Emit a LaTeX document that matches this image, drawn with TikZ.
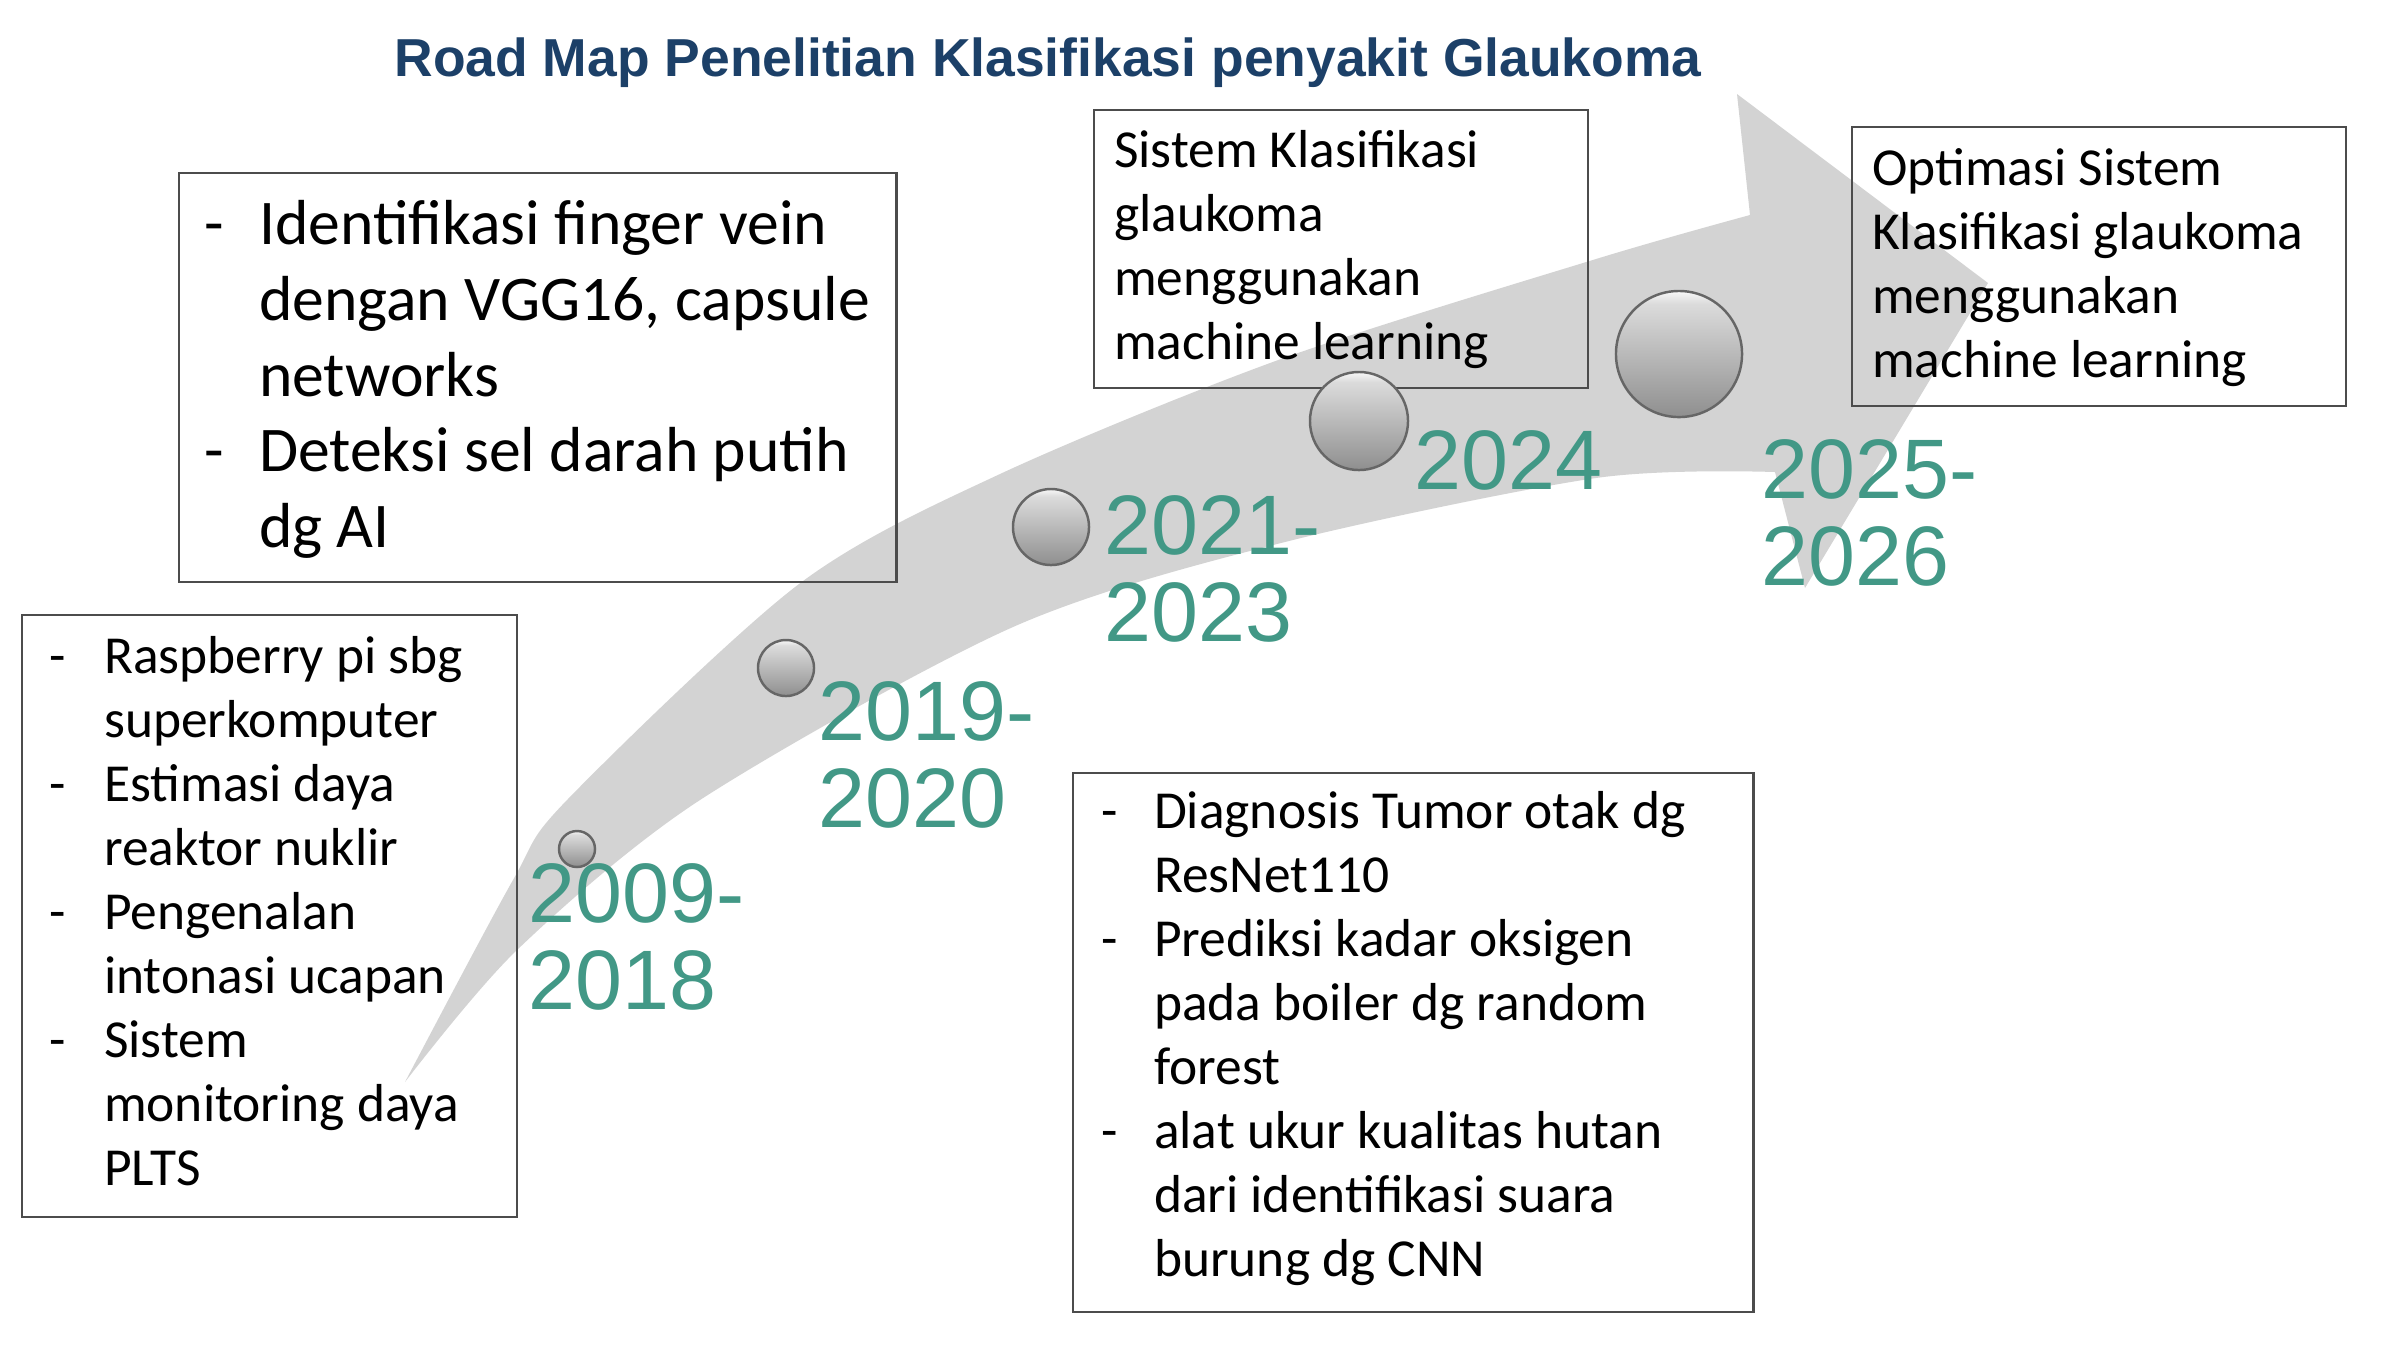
\documentclass[tikz,border=0pt]{standalone}
\usepackage{fontspec}
\setmainfont{Carlito}
\newfontfamily\arialfont{Liberation Sans}

\definecolor{titleblue}{RGB}{28,64,104}
\definecolor{yearteal}{RGB}{66,152,134}
\definecolor{arrowgray}{RGB}{211,211,211}

\pgfdeclareverticalshading{silver}{100bp}{color(0bp)=(gray!88); color(25bp)=(gray!88); color(40bp)=(gray!68); color(58bp)=(gray!44); color(70bp)=(gray!28); color(74bp)=(gray!10); color(75bp)=(white); color(100bp)=(white)}

\newcommand{\dashitem}[3]{\noindent\hangindent=#2\hangafter=1\makebox[#2][l]{\hspace*{#1}-}#3\par}

\begin{document}
\begin{tikzpicture}[x=0.01cm,y=-0.01cm,
  textbox/.style={draw=black!70, line width=0.6pt, anchor=north west, inner sep=0pt, align=flush left},
  knob/.style={circle, shading=silver, draw=black!60, line width=0.7pt, inner sep=0pt},
  year/.style={anchor=base west, inner sep=0pt, text width=3cm, align=flush left, text=yearteal, font=\arialfont\fontsize{24pt}{24.8pt}\selectfont}]

\useasboundingbox (0,0) rectangle (2408,1356);

% the big arrow
\fill[arrowgray] plot[smooth] coordinates {(405,1082) (513,880) (567,800) (799,584) (1000,474) (1281,359) (1596,259) (1750,215)}
	-- (1737,94) -- (1988,283) -- (1805,588) -- (1775,472)
	-- plot[smooth] coordinates {(1775,472) (1596,478) (1281,543) (1013,627) (700,800) (517,950) (405,1082)} -- cycle;

\node[textbox, text width=7.17cm, text height=0.71cm, text depth=3.38cm, font=\fontsize{18.1pt}{21.6pt}\selectfont] (boxA) at (178,172)
	{\dashitem{0.25cm}{0.80cm}{Identifikasi finger vein\newline dengan VGG16, capsule\newline networks}%
	 \dashitem{0.25cm}{0.80cm}{Deteksi sel darah putih\newline dg AI}};
\node[textbox, text width=4.95cm, text height=0.58cm, text depth=5.44cm, font=\fontsize{15.2pt}{18.2pt}\selectfont] (boxB) at (21,614)
	{\dashitem{0.27cm}{0.82cm}{Raspberry pi sbg\newline superkomputer}%
	 \dashitem{0.27cm}{0.82cm}{Estimasi daya\newline reaktor nuklir}%
	 \dashitem{0.27cm}{0.82cm}{Pengenalan\newline intonasi ucapan}%
	 \dashitem{0.27cm}{0.82cm}{Sistem\newline monitoring daya\newline PLTS}};
\node[textbox, inner xsep=0.2cm, text width=4.54cm, text height=0.57cm, text depth=2.21cm, font=\fontsize{15.2pt}{18.2pt}\selectfont] (boxC) at (1093,109)
	{Sistem Klasifikasi\newline glaukoma\newline menggunakan\newline machine learning};
\node[textbox, inner xsep=0.2cm, text width=4.54cm, text height=0.58cm, text depth=2.21cm, font=\fontsize{15.2pt}{18.2pt}\selectfont] (boxD) at (1851,126)
	{Optimasi Sistem\newline Klasifikasi glaukoma\newline menggunakan\newline machine learning};
\node[textbox, text width=6.80cm, text height=0.55cm, text depth=4.84cm, font=\fontsize{15.2pt}{18.2pt}\selectfont] (boxE) at (1072,772)
	{\dashitem{0.28cm}{0.81cm}{Diagnosis Tumor otak dg\newline ResNet110}%
	 \dashitem{0.28cm}{0.81cm}{Prediksi kadar oksigen\newline pada boiler dg random\newline forest}%
	 \dashitem{0.28cm}{0.81cm}{alat ukur kualitas hutan\newline dari identifikasi suara\newline burung dg CNN}};

\node[knob, minimum size=0.36cm] (s1) at (577,849) {};
\node[knob, minimum size=0.56cm] (s2) at (786,668) {};
\node[knob, minimum size=0.76cm] (s3) at (1051,527) {};
\node[knob, minimum size=0.98cm] (s4) at (1359,421) {};
\node[knob, minimum size=1.26cm] (s5) at (1679,354) {};

\node[year] (y1) at (528,922) {2009-\\2018};
\node[year] (y2) at (818,740) {2019-\\2020};
\node[year] (y3) at (1104,554) {2021-\\2023};
\node[year] (y4) at (1414,489) {2024};
\node[year] (y5) at (1761,498) {2025-\\2026};

\node[anchor=base, inner sep=0pt, text=titleblue, font=\arialfont\bfseries\fontsize{15.2pt}{18pt}\selectfont] (title) at (1048,76)
	{Road Map Penelitian Klasifikasi penyakit Glaukoma};
\end{tikzpicture}
\end{document}
